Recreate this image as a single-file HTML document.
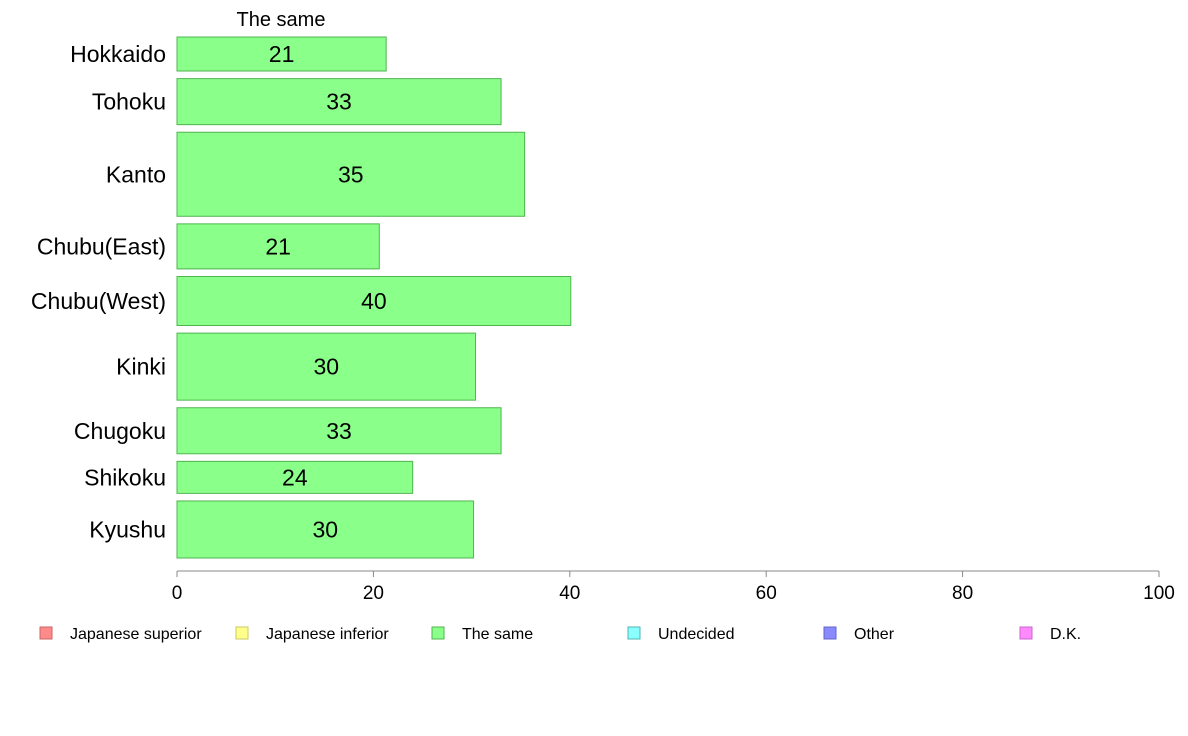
<!DOCTYPE html>
<html><head><meta charset="utf-8"><style>
html,body{margin:0;padding:0;background:#fff;}
svg{display:block;font-family:"Liberation Sans",Arial,sans-serif;}
</style></head><body>
<svg id="chart" width="1188" height="736" viewBox="0 0 1188 736">
<text x="281" y="26" font-size="20" text-anchor="middle">The same</text>
<g id="bars"></g>
<g id="axis"></g>
<g id="legend"></g>
</svg>
<script>
const categories = ["Hokkaido","Tohoku","Kanto","Chubu(East)","Chubu(West)","Kinki","Chugoku","Shikoku","Kyushu"];
const values = [21.3, 33.0, 35.4, 20.6, 40.1, 30.4, 33.0, 24.0, 30.2];
const labels = ["21","33","35","21","40","30","33","24","30"];
const sampleWeights = [34, 46, 84, 45, 49, 67, 46, 32, 57];
const ticks = [0,20,40,60,80,100];
const legendItems = ["Japanese superior","Japanese inferior","The same","Undecided","Other","D.K."];
const legendColors = ["#ff8a8a","#ffff8a","#8aff8a","#8affff","#8a8aff","#ff8aff"];
const legendStroke = ["#c86464","#c8c864","#50b450","#50b4b4","#6464c8","#c864c8"];

const NS="http://www.w3.org/2000/svg";
const x0=177, x1=1159, yTop=37, yBot=558, gap=7.6;
const xs = v => x0 + (v/100)*(x1-x0);
function mk(tag, attrs, parent){const e=document.createElementNS(NS,tag);for(const k in attrs)e.setAttribute(k,attrs[k]);parent.appendChild(e);return e;}
const barsG=document.getElementById('bars');
const totalW=sampleWeights.reduce((a,b)=>a+b,0);
const scale=(yBot-yTop-gap*(categories.length-1))/totalW;
let y=yTop;
categories.forEach((c,i)=>{
  const h=sampleWeights[i]*scale;
  const r=mk('rect',{x:x0,y:y,width:xs(values[i])-x0,height:h,fill:"#8aff8a",stroke:"#50b450","stroke-width":1},barsG);
  
  
  const t=mk('text',{x:(x0+xs(values[i]))/2,y:y+h/2+8,"font-size":23,"text-anchor":"middle"},barsG);
  t.textContent=labels[i];
  
  
  const cl=mk('text',{x:166,y:y+h/2+8,"font-size":23,"text-anchor":"end"},barsG);
  cl.textContent=c;
  
  
  y+=h+gap;
});
const ax=document.getElementById('axis');
mk('line',{x1:x0,x2:x1,y1:571,y2:571,stroke:"#888","stroke-width":1},ax);
ticks.forEach(t=>{
  mk('line',{x1:xs(t),x2:xs(t),y1:571,y2:577,stroke:"#888","stroke-width":1},ax);
  const tx=mk('text',{x:xs(t),y:599,"font-size":19,"text-anchor":"middle"},ax);
  tx.textContent=t;
  
  
});
const lg=document.getElementById('legend');
legendItems.forEach((n,i)=>{
  const lx=40+i*196;
  const s=mk('rect',{x:lx,y:627,width:12,height:12,fill:legendColors[i],stroke:legendStroke[i],"stroke-width":1},lg);
  
  
  const t=mk('text',{x:lx+30,y:639,"font-size":16},lg);
  t.textContent=n;
  
  
});
</script>
</body></html>
